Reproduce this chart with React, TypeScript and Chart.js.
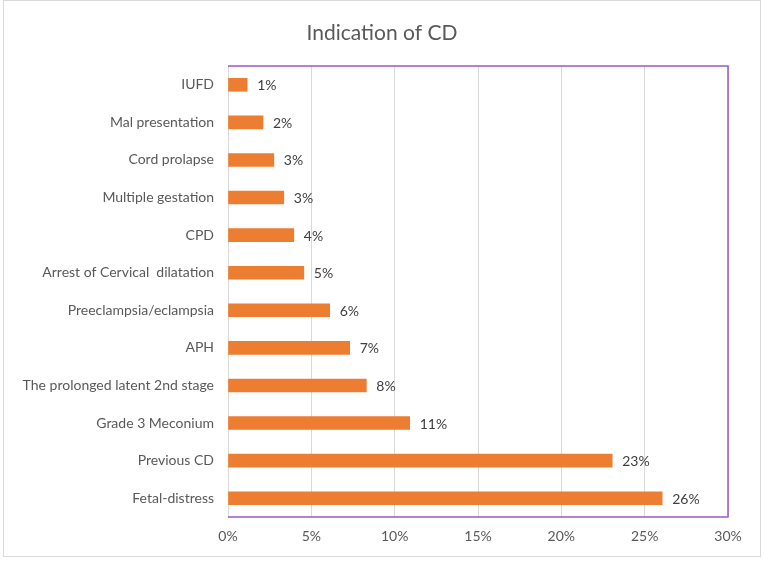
import React, { useEffect, useRef } from "react";
import { Chart, registerables } from "chart.js";

Chart.register(...registerables);

const categories = [
  "IUFD",
  "Mal presentation",
  "Cord prolapse",
  "Multiple gestation",
  "CPD",
  "Arrest of Cervical  dilatation",
  "Preeclampsia/eclampsia",
  "APH",
  "The prolonged latent 2nd stage",
  "Grade 3 Meconium",
  "Previous CD",
  "Fetal-distress",
];
const values = [1.15, 2.1, 2.75, 3.35, 3.95, 4.55, 6.1, 7.3, 8.3, 10.9, 23.05, 26.05];
const valueLabels = ["1%", "2%", "3%", "3%", "4%", "5%", "6%", "7%", "8%", "11%", "23%", "26%"];
const xTicks = [0, 5, 10, 15, 20, 25, 30];
const title = "Indication of CD";

const FONT = "Lato, 'Open Sans', sans-serif";

export default function App() {
  const ref = useRef<HTMLCanvasElement | null>(null);
  useEffect(() => {
    document.body.style.margin = "0";
    const canvas = ref.current!;
    const frame = {
      id: "frame",
      beforeDraw(chart: any) {
        const ctx = chart.ctx;
        ctx.save();
        ctx.fillStyle = "#ffffff";
        ctx.fillRect(0, 0, chart.width, chart.height);
        ctx.strokeStyle = "#d9d9d9";
        ctx.lineWidth = 1;
        ctx.strokeRect(3.5, 0.5, 757, 556);
        ctx.fillStyle = "#595959";
        ctx.font = `21px ${FONT}`;
        ctx.textAlign = "center";
        ctx.textBaseline = "middle";
        ctx.fillText(title, 382, 33);
        ctx.restore();
      },
      afterDraw(chart: any) {
        const { ctx, chartArea } = chart;
        const { left, right, top, bottom } = chartArea;
        ctx.save();
        ctx.strokeStyle = "#9b59c9";
        ctx.lineWidth = 1.5;
        ctx.beginPath();
        ctx.moveTo(left, top);
        ctx.lineTo(right, top);
        ctx.lineTo(right, bottom);
        ctx.lineTo(left, bottom);
        ctx.stroke();
        ctx.restore();
      },
      afterDatasetsDraw(chart: any) {
        const ctx = chart.ctx;
        const meta = chart.getDatasetMeta(0);
        ctx.save();
        ctx.fillStyle = "#404040";
        ctx.font = `14px ${FONT}`;
        ctx.textAlign = "left";
        ctx.textBaseline = "middle";
        meta.data.forEach((bar: any, i: number) => {
          ctx.fillText(valueLabels[i], bar.x + 10, bar.y + 1);
        });
        ctx.restore();
      },
    };
    const chart = new Chart(canvas, {
      type: "bar",
      data: {
        labels: categories,
        datasets: [
          {
            data: values,
            backgroundColor: "#ED7D31",
            barThickness: 13,
          },
        ],
      },
      options: {
        indexAxis: "y",
        animation: false,
        responsive: false,
        layout: { padding: { left: 0, right: 36, top: 66, bottom: 14 } },
        plugins: {
          legend: { display: false },
          tooltip: { enabled: false },
          title: { display: false },
        },
        scales: {
          x: {
            min: 0,
            max: 30,
            afterBuildTicks(scale: any) {
              scale.ticks = xTicks.map((v) => ({ value: v }));
            },
            afterFit(scale: any) {
              scale.height = 30;
            },
            ticks: {
              callback: (v: any) => `${v}%`,
              color: "#595959",
              font: { family: FONT, size: 14 },
              padding: 11,
            },
            grid: { color: "#d9d9d9", drawTicks: false },
            border: { display: false },
          },
          y: {
            afterFit(scale: any) {
              scale.width = 228;
            },
            ticks: {
              color: "#595959",
              font: { family: FONT, size: 14 },
              padding: 14,
            },
            grid: { display: false, drawTicks: false },
            border: { display: true, color: "#d9d9d9" },
          },
        },
      },
      plugins: [frame],
    });
    return () => chart.destroy();
  }, []);
  return (
    <div style={{ position: "absolute", left: 0, top: 0, width: 764, height: 561 }}>
      <canvas ref={ref} width={764} height={561} style={{ display: "block" }} />
    </div>
  );
}
